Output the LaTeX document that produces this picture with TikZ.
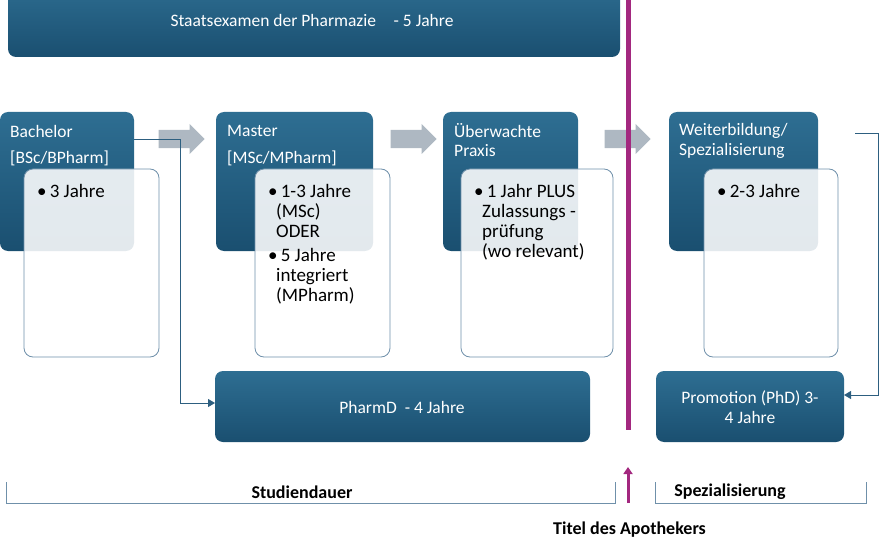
\documentclass[tikz,border=0pt]{standalone}
\usepackage{fontspec}
\setmainfont{Carlito}
\usetikzlibrary{arrows.meta,shapes.arrows}
\definecolor{dtop}{HTML}{2E6E92}
\definecolor{dbot}{HTML}{1A4F70}
\definecolor{edge}{HTML}{6F90AA}
\definecolor{conn}{HTML}{2D5F80}
\definecolor{purp}{HTML}{A3287F}
\definecolor{garrow}{HTML}{AEB8C2}
\tikzset{x=1pt,y=-1pt,
 dark/.style={rounded corners=8pt,top color=dtop,bottom color=dbot,draw=none},
 lite/.style={rounded corners=9pt,fill=white,fill opacity=0.88,draw=edge,line width=0.8pt},
 wt/.style={text=white,font=\fontsize{17.5}{20}\selectfont,anchor=west,inner sep=0},
 bt/.style={text=black,font=\fontsize{19}{21}\selectfont,anchor=north west,inner sep=0,align=left},
 garr/.style={single arrow,fill=garrow,draw=none,minimum height=46pt,minimum width=30pt,single arrow head extend=4pt,single arrow tip angle=90,inner sep=6pt},
 conn/.style={draw=conn,line width=0.9pt,-{Triangle[length=7pt,width=8pt]}},
 brk/.style={draw=edge,line width=0.8pt},
 lbl/.style={font=\bfseries\fontsize{18}{20}\selectfont,inner sep=0}}
\begin{document}
\begin{tikzpicture}
\useasboundingbox (0,0) rectangle (880,540);
\clip (0,0) rectangle (880,540);
% top box
\path[dark] (8,-20) rectangle (620,57);
\node[text=white,font=\fontsize{17.5}{20}\selectfont] (stx) at (312,20) {Staatsexamen der Pharmazie\quad- 5 Jahre};
% dark boxes
\path[dark] (0,112) rectangle (134,251);
\path[dark] (216,112) rectangle (373,251);
\path[dark] (443,112) rectangle (578,251);
\path[dark] (669,112) rectangle (818,251);
\node[wt] (ba1) at (10,131) {Bachelor};
\node[wt] (ba2) at (10,158) {[BSc/BPharm]};
\node[wt] (ma1) at (227,131) {Master};
\node[wt] (ma2) at (227,158) {[MSc/MPharm]};
\node[wt] (pr1) at (454,131) {Überwachte};
\node[wt] (pr2) at (454,151) {Praxis};
\node[wt] (we1) at (679,131) {Weiterbildung/};
\node[wt] (we2) at (679,151) {Spezialisierung};
% light boxes
\path[lite] (24,169) rectangle (159,357);
\path[lite] (255,169) rectangle (390,357);
\path[lite] (461,169) rectangle (613,357);
\path[lite] (704,169) rectangle (838,357);
\node[bt] (bat) at (37,184) {•\,3 Jahre};
\node[bt] (mat) at (268,184) {•\,1-3 Jahre\\[-1pt]\hspace*{8pt}(MSc)\\[-1pt]\hspace*{8pt}ODER\\[3pt]•\,5 Jahre\\[-1pt]\hspace*{8pt}integriert\\[-1pt]\hspace*{8pt}(MPharm)};
\node[bt] (prt) at (474,184) {•\,1 Jahr PLUS\\[-1pt]\hspace*{8pt}Zulassungs -\\[-1pt]\hspace*{8pt}prüfung\\[-1pt]\hspace*{8pt}(wo relevant)};
\node[bt] (wet) at (717,184) {•\,2-3 Jahre};
% gray arrows
\node[garr] (g1) at (177,139) {};
\node[garr] (g2) at (409,139) {};
\node[garr] (g3) at (623,139) {};
% bottom boxes
\path[dark] (215,371) rectangle (590,442);
\node[text=white,font=\fontsize{17.5}{20}\selectfont] (phd) at (402,407) {PharmD\ \ - 4 Jahre};
\path[dark] (656,371) rectangle (844,442);
\node[text=white,font=\fontsize{17.5}{20}\selectfont,align=center] (prom) at (750,407) {Promotion (PhD) 3-\\4 Jahre};
% connectors
\coordinate (c1) at (134,139);
\coordinate (c2) at (215,403);
\draw[conn] (c1) -- (180,139) -- (180,403) -- (c2);
\coordinate (c3) at (855,133);
\coordinate (c4) at (844,395);
\draw[conn] (c3) -- (878,133) -- (878,395) -- (c4);
% purple line
\draw[purp,line width=5pt] (628,0) -- (628,430);
\draw[purp,line width=3pt,-{Triangle[length=7pt,width=9pt]}] (628,503) -- (628,467);
% brackets
\draw[brk] (6,482) -- (6,503) -- (615,503) -- (615,482);
\draw[brk] (655,482) -- (655,503) -- (866,503) -- (866,482);
\node[lbl] (sd) at (302,492) {Studiendauer};
\node[lbl] (sp) at (730,492) {Spezialisierung};
\node[lbl,anchor=south west] (tit) at (553,538) {Titel des Apothekers};
\end{tikzpicture}
\end{document}
